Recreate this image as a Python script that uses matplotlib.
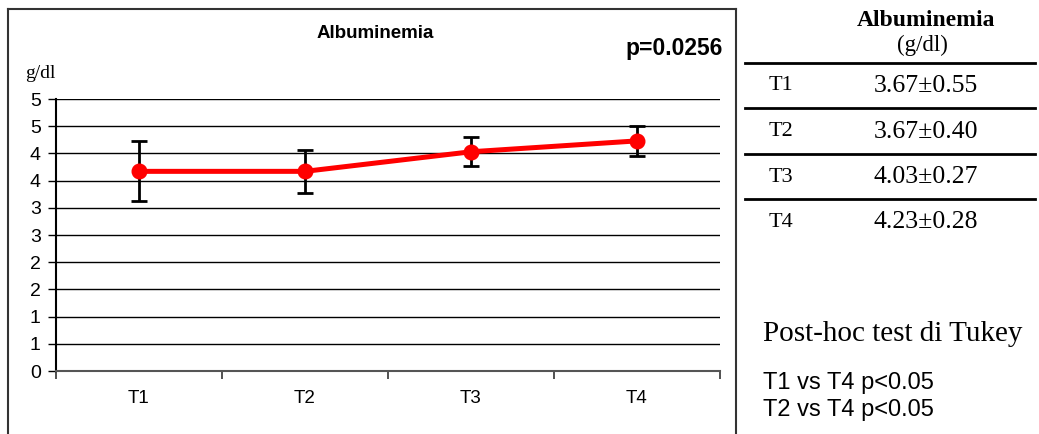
import numpy as np
import matplotlib
matplotlib.use('Agg')
import matplotlib.pyplot as plt
from matplotlib.lines import Line2D
from matplotlib.ticker import FuncFormatter, MultipleLocator

times = ['T1', 'T2', 'T3', 'T4']
means = [3.67, 3.67, 4.03, 4.23]
sds = [0.55, 0.40, 0.27, 0.28]
tukey = ['T1 vs T4 p<0.05', 'T2 vs T4 p<0.05']

W, H = 1039, 434
fig = plt.figure(figsize=(W / 100, H / 100), dpi=100)
sans = 'Liberation Sans'
serif = 'Liberation Serif'

def fx(px):
    return px / W

def fy(py):
    return 1 - py / H

# frame around the chart part
for xs, ys in [([8, 8], [9, H]), ([8, 736], [9, 9]), ([736, 736], [9, H])]:
    fig.add_artist(Line2D([fx(v) for v in xs], [fy(v) for v in ys],
                          color='#333333', lw=1.5))

ax = fig.add_axes([fx(56), fy(371), fx(720) - fx(56), fy(99) - fy(371)])
x = np.arange(len(times))
ax.errorbar(x, means, yerr=sds, fmt='none', ecolor='black', elinewidth=2,
            capsize=5.5, capthick=2, zorder=3)
ax.plot(x, means, color='red', lw=3.6, marker='o', ms=10.5, zorder=4)

ax.set_xlim(-0.5, len(times) - 0.5)
ax.set_ylim(0, 5)
ax.yaxis.set_major_locator(MultipleLocator(0.5))
ax.yaxis.set_major_formatter(FuncFormatter(lambda v, p: '%d' % np.floor(v + 0.5)))
ax.grid(axis='y', color='black', lw=1)
ax.set_axisbelow(True)
for s in ['top', 'right']:
    ax.spines[s].set_visible(False)
ax.spines['left'].set_linewidth(1.5)
ax.spines['bottom'].set_color('#555555')
ax.spines['bottom'].set_linewidth(1.5)
ax.tick_params(axis='y', length=6, width=1, labelsize=14, pad=5)
ax.set_xticks(np.arange(-0.5, len(times)))
ax.set_xticklabels([])
ax.set_xticks(x, minor=True)
ax.set_xticklabels(times, minor=True)
ax.tick_params(axis='x', which='minor', length=0, labelsize=13.5, pad=14)
ax.tick_params(axis='x', which='major', length=6, width=1.2, color='#333333')
for lab in ax.get_xticklabels(minor=True) + ax.get_yticklabels():
    lab.set_fontfamily(sans)

fig.text(fx(375), fy(34), 'Albuminemia', family=sans, weight='bold',
         fontsize=13.5, ha='center', va='center')
fig.text(fx(723), fy(49), 'p=0.0256', family=sans, weight='bold',
         fontsize=16.5, ha='right', va='center')
fig.text(fx(25), fy(74), 'g/dl', family=serif, fontsize=14, ha='left', va='center')

# summary table on the right
fig.text(fx(926), fy(20), 'Albuminemia', family=serif, weight='bold',
         fontsize=17, ha='center', va='center')
fig.text(fx(922), fy(45), '(g/dl)', family=serif, fontsize=16.5,
         ha='center', va='center')
line_y = [63, 108, 154, 199]
for i, (t, m, s) in enumerate(zip(times, means, sds)):
    if i < len(line_y):
        fig.add_artist(Line2D([fx(745), fx(1035)], [fy(line_y[i])] * 2,
                              color='black', lw=2))
    yc = line_y[0] + 23 + 45.5 * i
    fig.text(fx(769), fy(yc), t, family=serif, fontsize=16, ha='left', va='center')
    fig.text(fx(926), fy(yc), '%.2f±%.2f' % (m, s), family=serif,
             fontsize=18.5, ha='center', va='center')

fig.text(fx(763), fy(334), 'Post-hoc test di Tukey', family=serif,
         fontsize=21, ha='left', va='center')
for i, t in enumerate(tukey):
    fig.text(fx(763), fy(383 + 27 * i), t, family=sans, fontsize=17,
             ha='left', va='center')

fig.savefig('out.png', dpi=100)
